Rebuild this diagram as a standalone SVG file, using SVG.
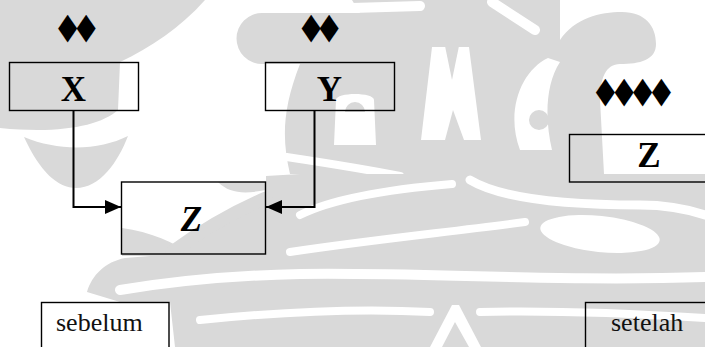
<svg xmlns="http://www.w3.org/2000/svg" width="705" height="347" viewBox="0 0 705 347">
  <style>
    .wm { fill: #d9d9d9; stroke: none; }
    .wm-band { fill: none; stroke: #d9d9d9; stroke-linecap: round; }
    .wm-cut { fill: none; stroke: #ffffff; stroke-linecap: round; stroke-linejoin: round; }
    .wm-hole { fill: #ffffff; stroke: none; }
    .box { fill: none; stroke: #000000; stroke-width: 1.4; }
    .letter { font-family: "Liberation Serif", "Times New Roman", serif; font-weight: bold; font-size: 35px; fill: #000000; text-anchor: middle; }
    .caption { font-family: "Liberation Serif", "Times New Roman", serif; font-size: 26px; fill: #111111; }
    .dots { font-family: "DejaVu Sans", sans-serif; font-size: 25px; fill: #000000; text-anchor: middle; }
    .link { fill: none; stroke: #000000; stroke-width: 2; }
  </style>
  <defs>
    <marker id="arrow" markerUnits="userSpaceOnUse" markerWidth="16" markerHeight="14" refX="16" refY="7" orient="auto">
      <polygon points="0,0 16,7 0,14" fill="#000000"/>
    </marker>
  </defs>

  <rect width="705" height="347" fill="#ffffff"/>

  <!-- faint emblem in the background -->
  <g id="watermark">
    <!-- upper-left swoosh -->
    <path class="wm" d="M0,0 H205 C180,28 150,48 120,62 L118,110 C100,126 60,134 0,128 Z"/>
    <!-- bowl under the left box -->
    <path class="wm" d="M24,137 C40,172 58,188 76,188 C100,188 118,162 128,136 C100,150 60,152 24,137 Z"/>
    <!-- rounded lobe and central body -->
    <path class="wm" d="M262,13 H360 L352,0 H560 L560,40 C575,18 600,12 622,12 C645,12 656,26 656,44 C656,60 640,64 620,64 C606,64 600,78 600,100 L604,174 H290 C282,140 282,110 300,64 H262 A25,25 0 0 1 262,13 Z"/>
    <!-- openings inside the body -->
    <path class="wm-hole" d="M432,47 L469,47 L481,140 L464,140 L453,110 L445,140 L421,140 Z"/>
    <polygon class="wm" points="445,46 459,46 452,80"/>
    <path class="wm-hole" d="M548,58 C522,70 505,110 520,150 L552,150 C545,120 545,85 560,62 Z"/>
    <circle class="wm" cx="539" cy="120" r="10"/>
    <path class="wm-cut" stroke-width="10" d="M352,8 L420,6 M492,2 L535,30"/>
    <path class="wm-hole" d="M336,100 C336,92 374,92 374,100 L376,145 L334,145 Z"/>
    <path class="wm" d="M345,112 A10,10 0 0 1 365,112 Z"/>
    <path class="wm-cut" stroke-width="8" d="M287,157 C320,162 360,168 400,176"/>
    <!-- lower striped band -->
    <path class="wm" d="M266,176 L300,174 H705 V347 H175 L170,302 H120 L87,292 C92,275 105,262 125,258 L150,256 C190,236 235,212 266,192 Z"/>
    <path class="wm" d="M122,256 L122,228 C150,232 175,242 192,256 Z"/>
    <path class="wm-band" stroke-width="13" d="M172,252 C205,228 238,210 266,198"/>
    <path class="wm" d="M218,182 H266 V190 C245,194 230,194 218,182 Z"/>
    <path class="wm-cut" stroke-width="8" d="M300,215 C330,200 380,190 452,184"/>
    <path class="wm-cut" stroke-width="9" d="M470,180 C500,198 560,205 640,205 C670,205 690,210 705,215"/>
    <ellipse class="wm-hole" cx="600" cy="234" rx="60" ry="18" transform="rotate(6 600 234)"/>
    <path class="wm-cut" stroke-width="8" d="M290,252 C370,240 450,232 525,222"/>
    <path class="wm-cut" stroke-width="10" d="M120,290 C180,280 250,275 300,274 C420,272 560,282 705,277"/>
    <path class="wm-cut" stroke-width="8" d="M200,320 C280,312 360,308 430,312 M480,312 C560,310 640,314 705,318"/>
    <path class="wm-hole" d="M430,347 L452,305 L459,305 L481,347 L469,347 L455,322 L442,347 Z"/>
  </g>

  <!-- connectors -->
  <g id="connectors">
    <path class="link" d="M73.5,110 V207 H121" marker-end="url(#arrow)"/>
    <path class="link" d="M314.5,110 V207 H266" marker-end="url(#arrow)"/>
  </g>

  <!-- before -->
  <g id="node-x">
    <g transform="translate(0,27) scale(1,1.45) translate(0,-27)">
      <text class="dots" x="67.5 86" y="34.5">◆◆</text>
    </g>
    <rect class="box" x="9.5" y="62.5" width="129" height="48"/>
    <text class="letter" x="73.5" y="101">X</text>
  </g>
  <g id="node-y">
    <g transform="translate(0,27) scale(1,1.45) translate(0,-27)">
      <text class="dots" x="311 329" y="34.5">◆◆</text>
    </g>
    <rect class="box" x="265.5" y="62.5" width="129" height="48"/>
    <text class="letter" x="329.5" y="101">Y</text>
  </g>
  <g id="node-z">
    <rect class="box" x="121.5" y="182" width="144" height="72"/>
    <text class="letter" x="191.5" y="231" font-style="italic">Z</text>
  </g>

  <!-- after -->
  <g id="node-z-after">
    <g transform="translate(0,91.5) scale(1,1.45) translate(0,-91.5)">
      <text class="dots" x="605.3 624 642.7 661.4" y="99">◆◆◆◆</text>
    </g>
    <rect class="box" x="569.5" y="134.5" width="145" height="47.5"/>
    <text class="letter" x="649" y="167">Z</text>
  </g>

  <!-- captions -->
  <g id="label-before">
    <rect class="box" x="41.5" y="302.5" width="127.5" height="50"/>
    <text class="caption" x="56" y="331">sebelum</text>
  </g>
  <g id="label-after">
    <rect class="box" x="585.5" y="302.5" width="130" height="50"/>
    <text class="caption" x="611" y="331">setelah</text>
  </g>
</svg>
